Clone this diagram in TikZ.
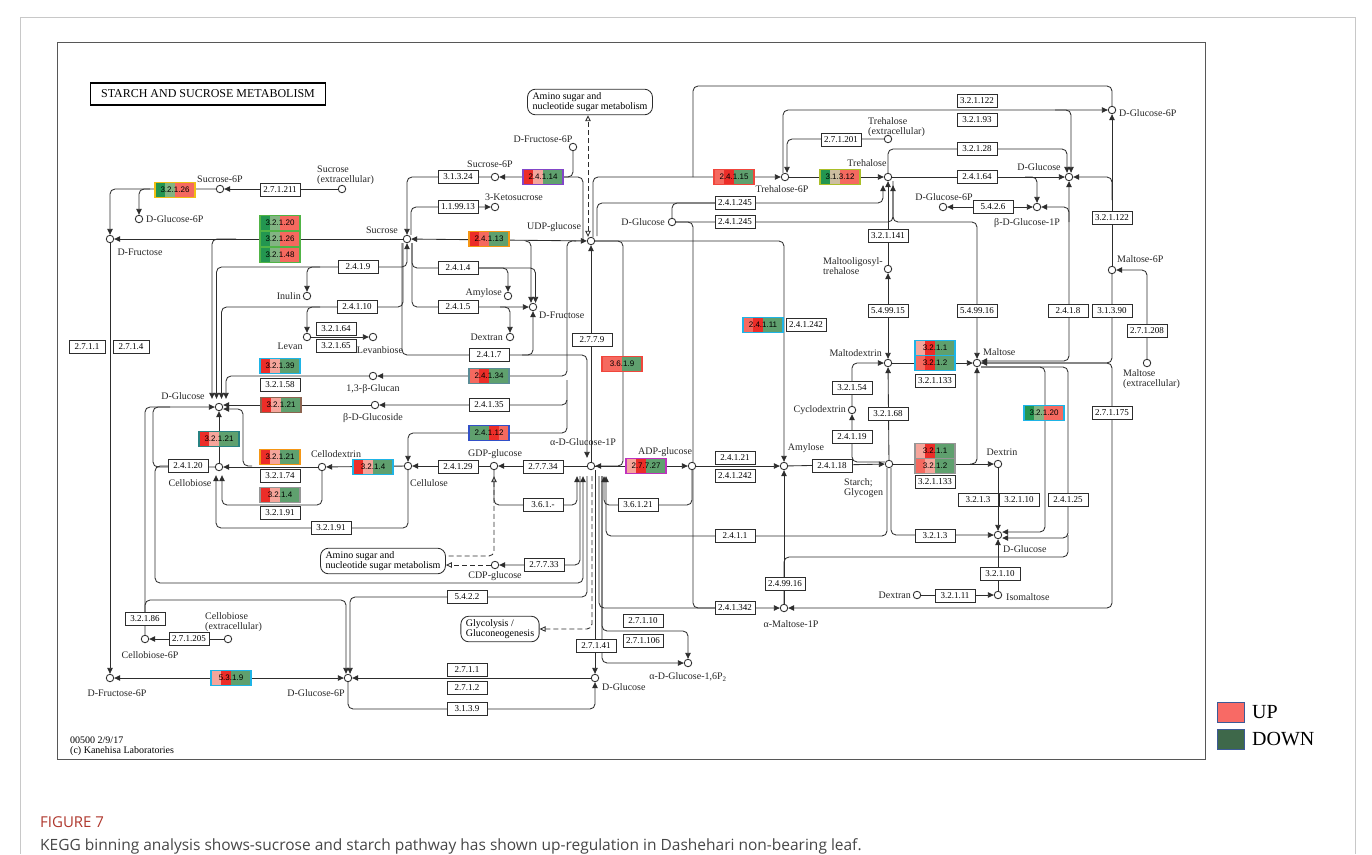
\documentclass[tikz,border=0pt]{standalone}
\usepackage{fontspec}
\setmainfont{Liberation Serif}
\newfontfamily\capfont{Open Sans}
\newfontfamily\ecsans{Liberation Sans}
\usetikzlibrary{arrows.meta,backgrounds}

\definecolor{linec}{RGB}{45,45,45}
\definecolor{framec}{RGB}{200,200,200}
\definecolor{figred}{RGB}{175,55,45}
\definecolor{captxt}{RGB}{70,70,70}
% expression colours
\definecolor{kred}{RGB}{236,45,40}
\definecolor{ksal}{RGB}{245,105,95}
\definecolor{kpink}{RGB}{245,165,155}
\definecolor{kgrn}{RGB}{95,160,110}
\definecolor{kdgrn}{RGB}{35,150,80}
\definecolor{klgrn}{RGB}{130,180,130}
\definecolor{ktan}{RGB}{205,190,160}
% box borders
\definecolor{bdyel}{RGB}{240,190,20}
\definecolor{bdgrn}{RGB}{80,180,70}
\definecolor{bdpur}{RGB}{130,70,200}
\definecolor{bdora}{RGB}{245,150,20}
\definecolor{bdred}{RGB}{240,70,60}
\definecolor{bdylg}{RGB}{170,190,40}
\definecolor{bdcya}{RGB}{30,180,230}
\definecolor{bdgry}{RGB}{150,150,150}
\definecolor{bdtea}{RGB}{40,130,130}
\definecolor{bdbrn}{RGB}{140,100,80}
\definecolor{bdblu}{RGB}{50,80,200}
\definecolor{bdmag}{RGB}{190,50,190}
\definecolor{bdtgr}{RGB}{90,140,150}
% legend
\definecolor{upc}{RGB}{248,106,101}
\definecolor{dnc}{RGB}{62,104,74}
\definecolor{legbd}{RGB}{60,90,150}

\newcommand{\cpdfont}{\fontsize{10}{10.5}\selectfont}
\newcommand{\ecfont}{\fontsize{9}{9.5}\selectfont}
\newcommand{\eccfont}{\ecsans\fontsize{8}{8.5}\selectfont}
\newcommand{\titlefont}{\fontsize{12}{13}\selectfont}

\tikzset{
  kline/.style={draw=linec, line width=0.85pt, rounded corners=5pt},
  kar/.style={kline, -{Triangle[length=6pt,width=5.5pt]}},
  kdar/.style={kline, {Triangle[length=6pt,width=5.5pt]}-{Triangle[length=6pt,width=5.5pt]}},
  kdash/.style={kline, dash pattern=on 5pt off 3pt},
  kdasho/.style={kdash, -{Triangle[open,length=6pt,width=5.5pt]}},
  kdashs/.style={kdash, {Triangle[open,length=6pt,width=5.5pt]}-},
  kdashoo/.style={kdash, {Triangle[open,length=6pt,width=5.5pt]}-{Triangle[open,length=6pt,width=5.5pt]}},
  cpd/.style={circle, draw=linec, line width=0.85pt, fill=white, minimum size=7.5pt, inner sep=0pt},
  lbl/.style={font=\cpdfont, text=black!85, inner sep=0pt, align=left},
  ecbox/.style={rectangle, draw=linec, line width=0.75pt, fill=white, minimum width=40pt, minimum height=13.5pt, inner sep=1pt, font=\ecfont},
  ecc/.style={rectangle, line width=1.3pt, minimum width=40pt, minimum height=15pt, inner sep=0pt, font=\eccfont},
  mapbox/.style={rectangle, rounded corners=8pt, draw=linec, line width=0.85pt, fill=white, align=left, font=\cpdfont, inner xsep=5pt, inner ysep=3pt},
}

% coloured enzyme box: name, position, label, segment colours, border
\newcommand{\kegbox}[5]{%
  \foreach \kc [count=\ki from 0] in {#4}
    {\fill[\kc] ([shift={(#2)}] {-20+10*\ki},-7.5) rectangle ([shift={(#2)}] {-10+10*\ki},7.5);}
  \node[ecc, draw=#5] (#1) at (#2) {#3};
}

\begin{document}
\begin{tikzpicture}[x=1pt,y=-1pt]
\useasboundingbox (0,0) rectangle (1372,854);

% frames
\draw[framec, line width=0.8pt] (20,854) -- (20,17) -- (1355,17) -- (1355,854);
\draw[linec!80, line width=0.8pt] (57,42) rectangle (1205,759);

\node[draw=black, line width=1.5pt, font=\titlefont, minimum width=235pt, minimum height=22pt] (title) at (208,94) {STARCH AND SUCROSE METABOLISM};

% compounds
\node[cpd] (suc6pL) at (220,189) {};
\node[cpd] (sucext) at (342,189) {};
\node[cpd] (g6pA) at (139,219) {};
\node[cpd] (dfru) at (110,239) {};
\node[cpd] (inulin) at (307,296) {};
\node[cpd] (levan) at (307,337) {};
\node[cpd] (levanbiose) at (373,337) {};
\node[cpd] (sucrose) at (407,239) {};
\node[cpd] (suc6pM) at (495,177) {};
\node[cpd] (ketosuc) at (495,207) {};
\node[cpd] (fru6pT) at (573,147) {};
\node[cpd] (udpg) at (591,241) {};
\node[cpd] (amylose1) at (508,296) {};
\node[cpd] (dfru2) at (533,307) {};
\node[cpd] (dextran1) at (510,337) {};
\node[cpd] (glucan) at (373,376) {};
\node[cpd] (glucoside) at (375,405) {};
\node[cpd] (dglcL) at (219,407) {};
\node[cpd] (cellobiose) at (219,467) {};
\node[cpd] (cellodextrin) at (322,467) {};
\node[cpd] (cellulose) at (408,466) {};
\node[cpd] (gdpg) at (494,466) {};
\node[cpd] (ag1p) at (591,466) {};
\node[cpd] (adpg) at (692,466) {};
\node[cpd] (amylose2) at (784,466) {};
\node[cpd] (starch) at (889,464) {};
\node[cpd] (cyclodextrin) at (852,410) {};
\node[cpd] (maltodextrin) at (888,363) {};
\node[cpd] (maltooligo) at (888,269) {};
\node[cpd] (trehalose) at (888,177) {};
\node[cpd] (tre6p) at (785,177) {};
\node[cpd] (treext) at (888,139) {};
\node[cpd] (dglcTop) at (672,222) {};
\node[cpd] (g6pTR) at (1112,110) {};
\node[cpd] (dglcTR) at (1069,177) {};
\node[cpd] (g6pR2) at (943,207) {};
\node[cpd] (bg1p) at (1037,207) {};
\node[cpd] (maltose6p) at (1112,270) {};
\node[cpd] (maltose) at (977,363) {};
\node[cpd] (maltext) at (1147,363) {};
\node[cpd] (dextrin) at (998,464) {};
\node[cpd] (dglcR) at (998,535) {};
\node[cpd] (isomaltose) at (998,595) {};
\node[cpd] (dextran2) at (917,595) {};
\node[cpd] (amalt1p) at (784,608) {};
\node[cpd] (ag16p2) at (688,663) {};
\node[cpd] (cdpg) at (495,565) {};
\node[cpd] (dglcB) at (595,678) {};
\node[cpd] (g6pB) at (348,678) {};
\node[cpd] (f6pB) at (110,678) {};
\node[cpd] (cb6p) at (145,639) {};
\node[cpd] (cbext) at (228,639) {};

% compound labels
\node[lbl] (l-suc6pL) at (220,179) {Sucrose-6P};
\node[lbl, anchor=west] (l-sucext) at (317,175) {Sucrose\\(extracellular)};
\node[lbl, anchor=west] (l-g6pA) at (146,219) {D-Glucose-6P};
\node[lbl] (l-dfru) at (140,252) {D-Fructose};
\node[lbl, anchor=east] (l-inulin) at (301,296) {Inulin};
\node[lbl] (l-levan) at (290,346) {Levan};
\node[lbl] (l-levanbiose) at (380,350) {Levanbiose};
\node[lbl] (l-sucrose) at (382,230) {Sucrose};
\node[lbl] (l-suc6pM) at (490,164) {Sucrose-6P};
\node[lbl] (l-ketosuc) at (514,197) {3-Ketosucrose};
\node[lbl] (l-fru6pT) at (543,139) {D-Fructose-6P};
\node[lbl] (l-udpg) at (554,227) {UDP-glucose};
\node[lbl, anchor=east] (l-amylose1) at (502,293) {Amylose};
\node[lbl, anchor=west] (l-dfru2) at (539,315) {D-Fructose};
\node[lbl, anchor=east] (l-dextran1) at (503,337) {Dextran};
\node[lbl] (l-glucan) at (373,389) {1,3-β-Glucan};
\node[lbl] (l-glucoside) at (373,418) {β-D-Glucoside};
\node[lbl] (l-dglcL) at (183,396) {D-Glucose};
\node[lbl] (l-cellobiose) at (190,483) {Cellobiose};
\node[lbl] (l-cellodextrin) at (336,454) {Cellodextrin};
\node[lbl] (l-cellulose) at (429,483) {Cellulose};
\node[lbl] (l-gdpg) at (495,454) {GDP-glucose};
\node[lbl] (l-ag1p) at (583,442) {α-D-Glucose-1P};
\node[lbl] (l-adpg) at (665,452) {ADP-glucose};
\node[lbl] (l-amylose2) at (806,448) {Amylose};
\node[lbl, anchor=north west] (l-starch) at (844,478) {Starch;\\Glycogen};
\node[lbl, anchor=east] (l-cyclodextrin) at (846,410) {Cyclodextrin};
\node[lbl, anchor=east] (l-maltodextrin) at (882,353) {Maltodextrin};
\node[lbl, anchor=west] (l-maltooligo) at (823,266) {Maltooligosyl-\\trehalose};
\node[lbl] (l-trehalose) at (867,163) {Trehalose};
\node[lbl] (l-tre6p) at (782,189) {Trehalose-6P};
\node[lbl, anchor=west] (l-treext) at (868,127) {Trehalose\\(extracellular)};
\node[lbl, anchor=east] (l-dglcTop) at (665,222) {D-Glucose};
\node[lbl, anchor=west] (l-g6pTR) at (1119,113) {D-Glucose-6P};
\node[lbl] (l-dglcTR) at (1039,167) {D-Glucose};
\node[lbl] (l-g6pR2) at (944,197) {D-Glucose-6P};
\node[lbl] (l-bg1p) at (1027,223) {β-D-Glucose-1P};
\node[lbl, anchor=west] (l-maltose6p) at (1117,259) {Maltose-6P};
\node[lbl, anchor=west] (l-maltose) at (983,352) {Maltose};
\node[lbl, anchor=north west] (l-maltext) at (1123,369) {Maltose\\(extracellular)};
\node[lbl] (l-dextrin) at (1002,452) {Dextrin};
\node[lbl, anchor=west] (l-dglcR) at (1003,549) {D-Glucose};
\node[lbl, anchor=west] (l-isomaltose) at (1006,597) {Isomaltose};
\node[lbl, anchor=east] (l-dextran2) at (911,595) {Dextran};
\node[lbl] (l-amalt1p) at (791,624) {α-Maltose-1P};
\node[lbl] (l-ag16p2) at (688,677) {α-D-Glucose-1,6P\textsubscript{2}};
\node[lbl] (l-cdpg) at (495,576) {CDP-glucose};
\node[lbl, anchor=west] (l-dglcB) at (602,687) {D-Glucose};
\node[lbl] (l-g6pB) at (316,693) {D-Glucose-6P};
\node[lbl] (l-f6pB) at (117,693) {D-Fructose-6P};
\node[lbl] (l-cb6p) at (150,655) {Cellobiose-6P};
\node[lbl, anchor=west] (l-cbext) at (205,622) {Cellobiose\\(extracellular)};

% map links
\node[mapbox] (aminoT) at (590,102) {Amino sugar and\\nucleotide sugar metabolism};
\node[mapbox] (aminoB) at (383,561) {Amino sugar and\\nucleotide sugar metabolism};
\node[mapbox] (glyco) at (500,629) {Glycolysis /\\Gluconeogenesis};

% enzymes
\node[ecbox] (e27121) at (280,190) {2.7.1.211};
\node[ecbox] (e31324) at (458,177) {3.1.3.24};
\node[ecbox] (e119913) at (458,207) {1.1.99.13};
\node[ecbox] (e2419) at (358,267) {2.4.1.9};
\node[ecbox] (e2414) at (458,268) {2.4.1.4};
\node[ecbox] (e24110) at (357,307) {2.4.1.10};
\node[ecbox] (e2415) at (458,307) {2.4.1.5};
\node[ecbox] (e32164) at (336,329) {3.2.1.64};
\node[ecbox] (e32165) at (336,346) {3.2.1.65};
\node[ecbox] (e2417) at (489,355) {2.4.1.7};
\node[ecbox] (e2779) at (592,340) {2.7.7.9};
\node[ecbox, minimum width=36pt] (e2711) at (87,347) {2.7.1.1};
\node[ecbox, minimum width=36pt] (e2714) at (131,347) {2.7.1.4};
\node[ecbox] (e32158) at (280,385) {3.2.1.58};
\node[ecbox] (e24135) at (489,405) {2.4.1.35};
\node[ecbox] (e24120) at (188,466) {2.4.1.20};
\node[ecbox] (e32174) at (280,476) {3.2.1.74};
\node[ecbox] (e32191a) at (280,513) {3.2.1.91};
\node[ecbox] (e32191b) at (331,528) {3.2.1.91};
\node[ecbox] (e24129) at (458,467) {2.4.1.29};
\node[ecbox] (e27734) at (543,467) {2.7.7.34};
\node[ecbox] (e361) at (543,505) {3.6.1.-};
\node[ecbox] (e27733) at (544,565) {2.7.7.33};
\node[ecbox] (e5422) at (467,597) {5.4.2.2};
\node[ecbox] (e27141) at (596,646) {2.7.1.41};
\node[ecbox] (e2711b) at (467,670) {2.7.1.1};
\node[ecbox] (e2712) at (467,688) {2.7.1.2};
\node[ecbox] (e3139) at (467,709) {3.1.3.9};
\node[ecbox] (e32186) at (145,619) {3.2.1.86};
\node[ecbox] (e271205) at (189,639) {2.7.1.205};
\node[ecbox] (e27110) at (643,621) {2.7.1.10};
\node[ecbox] (e271106) at (643,641) {2.7.1.106};
\node[ecbox] (e36121) at (638,505) {3.6.1.21};
\node[ecbox] (e24121) at (735,458) {2.4.1.21};
\node[ecbox] (e241242a) at (735,476) {2.4.1.242};
\node[ecbox] (e2411) at (735,536) {2.4.1.1};
\node[ecbox] (e241342) at (735,608) {2.4.1.342};
\node[ecbox] (e249916) at (785,584) {2.4.99.16};
\node[ecbox] (e241242b) at (806,325) {2.4.1.242};
\node[ecbox] (e24118) at (832,466) {2.4.1.18};
\node[ecbox] (e24119) at (852,437) {2.4.1.19};
\node[ecbox] (e32154) at (852,388) {3.2.1.54};
\node[ecbox] (e32168) at (888,414) {3.2.1.68};
\node[ecbox] (e549915) at (888,311) {5.4.99.15};
\node[ecbox] (e321141) at (888,236) {3.2.1.141};
\node[ecbox] (e241245a) at (735,203) {2.4.1.245};
\node[ecbox] (e241245b) at (735,222) {2.4.1.245};
\node[ecbox] (e271201) at (841,140) {2.7.1.201};
\node[ecbox] (e321122a) at (977,101) {3.2.1.122};
\node[ecbox] (e32193) at (977,120) {3.2.1.93};
\node[ecbox] (e32128) at (977,149) {3.2.1.28};
\node[ecbox] (e24164) at (977,177) {2.4.1.64};
\node[ecbox] (e5426) at (993,207) {5.4.2.6};
\node[ecbox] (e321122b) at (1112,218) {3.2.1.122};
\node[ecbox] (e549916) at (977,311) {5.4.99.16};
\node[ecbox] (e2418) at (1068,311) {2.4.1.8};
\node[ecbox] (e31390) at (1112,311) {3.1.3.90};
\node[ecbox] (e271208) at (1147,331) {2.7.1.208};
\node[ecbox] (e321133a) at (935,381) {3.2.1.133};
\node[ecbox] (e321133b) at (935,482) {3.2.1.133};
\node[ecbox] (e271175) at (1112,413) {2.7.1.175};
\node[ecbox] (e3213a) at (978,500) {3.2.1.3};
\node[ecbox] (e32110a) at (1019,500) {3.2.1.10};
\node[ecbox] (e24125) at (1068,500) {2.4.1.25};
\node[ecbox] (e3213b) at (935,536) {3.2.1.3};
\node[ecbox] (e32110b) at (1000,574) {3.2.1.10};
\node[ecbox] (e32111) at (955,596) {3.2.1.11};

% coloured enzymes
\kegbox{c32126a}{175,190}{3.2.1.26}{kdgrn,klgrn,ksal,ksal}{bdyel}
\kegbox{c32120}{280,223}{3.2.1.20}{kdgrn,klgrn,ksal,ksal}{bdgrn}
\kegbox{c32126b}{280,239}{3.2.1.26}{kdgrn,klgrn,ksal,ksal}{bdgrn}
\kegbox{c32148}{280,255}{3.2.1.48}{kdgrn,klgrn,ksal,ksal}{bdgrn}
\kegbox{c24114}{543,177}{2.4.1.14}{kred,kpink,kgrn,kgrn}{bdpur}
\kegbox{c24113}{489,239}{2.4.1.13}{kred,ksal,kgrn,kgrn}{bdora}
\kegbox{c24115}{734,177}{2.4.1.15}{ksal,kred,kgrn,kgrn}{bdred}
\kegbox{c31312}{840,177}{3.1.3.12}{kdgrn,ktan,ksal,ksal}{bdylg}
\kegbox{c24111}{763,325}{2.4.1.11}{ksal,kred,kgrn,kgrn}{bdcya}
\kegbox{c3211a}{935,348}{3.2.1.1}{kpink,kred,kgrn,kgrn}{bdcya}
\kegbox{c3212a}{935,363}{3.2.1.2}{ksal,kred,kgrn,kgrn}{bdcya}
\kegbox{c3211b}{935,451}{3.2.1.1}{kpink,kred,kgrn,kgrn}{bdgry}
\kegbox{c3212b}{935,466}{3.2.1.2}{ksal,kpink,kgrn,kgrn}{bdgry}
\kegbox{c32120r}{1044,413}{3.2.1.20}{kdgrn,klgrn,ksal,ksal}{bdcya}
\kegbox{c3619}{622,364}{3.6.1.9}{ksal,ksal,kgrn,kgrn}{bdred}
\kegbox{c24134}{489,376}{2.4.1.34}{ksal,kred,kgrn,kgrn}{bdtgr}
\kegbox{c32139}{280,366}{3.2.1.39}{kred,kpink,kgrn,kgrn}{bdcya}
\kegbox{c32121a}{281,405}{3.2.1.21}{kred,kpink,kgrn,kgrn}{bdbrn}
\kegbox{c24112}{489,433}{2.4.1.12}{kgrn,kgrn,kred,ksal}{bdblu}
\kegbox{c32121b}{219,439}{3.2.1.21}{kred,kpink,kgrn,kgrn}{bdtea}
\kegbox{c32121c}{280,457}{3.2.1.21}{kred,kpink,kgrn,kgrn}{bdora}
\kegbox{c3214a}{373,467}{3.2.1.4}{kred,kpink,kgrn,kgrn}{bdcya}
\kegbox{c3214b}{280,495}{3.2.1.4}{kred,kpink,kgrn,kgrn}{bdgry}
\kegbox{c27727}{646,466}{2.7.7.27}{kpink,kred,kgrn,kgrn}{bdmag}
\kegbox{c5319}{231,678}{5.3.1.9}{kpink,kred,kgrn,kgrn}{bdcya}

% footer and legend
\node[anchor=west, align=left, font=\fontsize{10}{10}\selectfont, inner sep=0pt] (footer) at (70,746) {00500 2/9/17\\(c) Kanehisa Laboratories};
\node[draw=legbd, fill=upc, minimum width=27pt, minimum height=20pt, inner sep=0pt] (legup) at (1231,712) {};
\node[draw=legbd, fill=dnc, minimum width=27pt, minimum height=20pt, inner sep=0pt] (legdn) at (1231,739) {};
\node[anchor=west, font=\fontsize{20}{22}\selectfont, inner sep=0pt] (legupt) at (1252,712) {UP};
\node[anchor=west, font=\fontsize{20}{22}\selectfont, inner sep=0pt] (legdnt) at (1252,739) {DOWN};

% caption
\node[anchor=west, inner sep=0pt, text=figred, font=\capfont\fontsize{15}{17}\selectfont] (figno) at (40,822) {FIGURE 7};
\node[anchor=west, inner sep=0pt, text=captxt, font=\capfont\fontsize{15.5}{17}\selectfont] (caption) at (40,846) {KEGG binning analysis shows-sucrose and starch pathway has shown up-regulation in Dashehari non-bearing leaf.};

\begin{pgfonlayer}{background}
% sucrose side
\draw[kar] (sucext) -- (suc6pL);
\draw[kar] (suc6pL) -| (dfru);
\draw[kar] (150,189) -| (g6pA);
\draw[kar] (sucrose) -- (dfru);
\draw[kar] (236,239) -| ([xshift=-7pt,yshift=4pt]dglcL.north);
\draw[kar] (e2419.center) -| ([xshift=-2.5pt,yshift=4pt]dglcL.north);
\draw[kar] (e2419.center) -| (sucrose.south);
\draw[kar] (320,267) -| (inulin);
\draw[kar] (e24110.center) -| ([xshift=2.5pt,yshift=4pt]dglcL.north);
\draw[kline] (e24110.center) -| ([xshift=-4pt]sucrose.south);
\draw[kar] (320,307) -| (levan);
\draw[kar] (levan) -- (levanbiose);
\draw[kar] (suc6pM) -| (sucrose);
\draw[kar] ([xshift=4pt]sucrose.north) |- (ketosuc);
\draw[kar] (fru6pT) |- (suc6pM);
\draw[kline] (c24114.center) -| ([xshift=-8pt,yshift=-3pt]udpg.north);
\draw[kdashoo] ([xshift=-3pt]udpg.north) -- ([xshift=-2pt]aminoT.south);
\draw[kdar] (udpg) -- (sucrose);
\draw[kar] (527,241) -| ([xshift=-2pt]dfru2.north);
\draw[kar] ([xshift=5pt]sucrose.south) |- (e2414.center) -| (amylose1);
\draw[kar] (e2414.center) -| ([xshift=2.5pt]dfru2.north);
\draw[kar] ([xshift=5pt]sucrose.south) |- (e2415.center) -- (dfru2);
\draw[kar] (500,307) -| (dextran1);
\draw[kar] ([xshift=-5pt]sucrose.south) |- (e2417.center) -| ([xshift=-4pt,yshift=4pt]ag1p.north);
\draw[kar] (522,355) -| (dfru2);
% UDP-glucose
\draw[kar] ([xshift=2pt]udpg.north) |- (tre6p);
\draw[kar] (597,236) |- (e241245a.center) -| ([xshift=-5pt,yshift=-4pt]trehalose.south);
\draw[kline] (dglcTop) |- (e241245a.center);
\draw[kar] (dglcTop) -- (e241245b.center) -| ([xshift=5pt,yshift=-4pt]trehalose.south);
\draw[kline] (dglcTop) -| (693,608) -- (e241342.center);
\draw[kar] (udpg) -| (amylose2);
\draw[kar] (576,241) -| (567,376) -- (glucan);
\draw[kar] (567,380) |- (glucoside);
\draw[kar] (567,400) |- (c24112.center) -| (cellulose);
\draw[kar] (udpg) -| (623,420) |- (ag1p);
\draw[kar] (ag1p) -- (udpg);
% glucose, cellulose
\draw[kar] (glucan) -| ([xshift=7pt,yshift=4pt]dglcL.north);
\draw[kar] (glucoside) -- ([yshift=2pt]dglcL.east);
\draw[kar] (252,466) -| (243,409) -- ([yshift=-2pt]dglcL.east);
\draw[kar] (cb6p) |- (dglcL);
\draw[kline] (cellobiose) -| (153,420) |- (170,407);
\draw[kar] (e24120.center) -| (155,583) -| ([xshift=-8pt,yshift=-6pt]ag1p.south);
\draw[kar] (cellobiose) -- (dglcL);
\draw[kar] (cellodextrin) -- (cellobiose);
\draw[kar] (cellodextrin) |- (240,505) -| ([xshift=3pt,yshift=-4pt]cellobiose.south);
\draw[kar] (cellulose) |- (e32191b.center) -| ([xshift=-3pt,yshift=-4pt]cellobiose.south);
\draw[kar] (cellulose) -- (cellodextrin);
\draw[kar] (gdpg) -- (cellulose);
\draw[kar] (ag1p) -- (gdpg);
\draw[kar] (gdpg) |- (e361.center) -| ([xshift=-14pt,yshift=-6pt]ag1p.south);
\draw[kar] ([xshift=-11pt,yshift=-6pt]ag1p.south) |- (cdpg);
\draw[kdashs] ([yshift=-6pt]gdpg.south) |- ([yshift=5pt]aminoB.east);
\draw[kdasho] (cdpg) -- (aminoB.east |- cdpg);
\draw[kdasho] ([xshift=1pt,yshift=-6pt]ag1p.south) |- (glyco.east);
\draw[kar] ([xshift=-4pt,yshift=-6pt]ag1p.south) |- (e5422.center) -| ([xshift=2pt]g6pB.north);
\draw[kar] (145,615) |- (300,600) -| ([xshift=-2pt]g6pB.north);
\draw[kar] ([xshift=4pt]ag1p.south) -- (dglcB);
\draw[kar] ([xshift=8pt,yshift=-6pt]ag1p.south) |- (amalt1p);
\draw[kar] ([xshift=11pt,yshift=-6pt]ag1p.south) |- (665,631) -| (ag16p2);
\draw[kar] ([xshift=11pt,yshift=-6pt]ag1p.south) |- (ag16p2);
\draw[kar] (adpg) |- (e36121.center) -| ([xshift=13pt,yshift=-6pt]ag1p.south);
% starch
\draw[kar] (ag1p) -- (adpg);
\draw[kar] (adpg) -- (amylose2);
\draw[kar] (amylose2) -- (starch);
\draw[kar] ([yshift=2pt]starch.west) -| (cyclodextrin);
\draw[kar] (cyclodextrin) |- (maltodextrin);
\draw[kar] (starch) -- (maltodextrin);
\draw[kdar] (maltooligo) -- (maltodextrin);
\draw[kar] (maltooligo) -- (trehalose);
\draw[kar] (maltodextrin) -- (maltose);
\draw[kar] (starch) -- (dextrin);
\draw[kar] (970,464) -| (maltose);
\draw[kar] (dextrin) -- (dglcR);
\draw[kar] ([xshift=2pt]starch.south) |- (dglcR);
\draw[kar] ([xshift=-2pt]starch.south) |- (e2411.center) -| ([xshift=15pt,yshift=-6pt]ag1p.south);
\draw[kar] (amalt1p) -- (amylose2);
\draw[kar] (dextran2) -- (isomaltose);
\draw[kar] (isomaltose) -- (dglcR);
\draw[kar] (maltose.east) -| (1112,608) -- (amalt1p);
\draw[kar] ([yshift=-4pt]maltose.east) -| (1045,532) -- ([yshift=3pt]dglcR.east);
\draw[kar] ([yshift=-4pt]maltose.east) -| (1068,538) -- ([yshift=-3pt]dglcR.east);
\draw[kline] (amalt1p) |- (1068,557) -- (1068,535);
% trehalose and maltose
\draw[kar] (trehalose) -- (dglcTR);
\draw[kar] (1025,177) -| (bg1p);
\draw[kar] (trehalose) |- (e32128.center) -| ([xshift=-2pt]dglcTR.north);
\draw[kar] (tre6p) -- (trehalose);
\draw[kline] (693,177) |- (1112,86) -- (g6pTR);
\draw[kar] (treext) -| ([xshift=2pt]tre6p.north);
\draw[kar] ([xshift=-2pt]tre6p.north) |- (g6pTR);
\draw[kar] (1055,110) -| ([xshift=2pt]dglcTR.north);
\draw[kdar] (g6pR2) -- (bg1p);
\draw[kdar] (dglcTR) |- ([yshift=2pt]maltose.east);
\draw[kar] (1069,222) |- (bg1p);
\draw[kar] (maltose6p) -- (g6pTR);
\draw[kar] (1112,200) |- (dglcTR);
\draw[kar] (maltose6p) |- (maltose.east);
\draw[kar] (maltext) |- (maltose6p);
\draw[kar] ([xshift=5pt]trehalose.south) |- (977,222) -- (maltose);
% fructose and glucose phosphates
\draw[kar] (dfru) -- (f6pB);
\draw[kdar] (f6pB) -- (g6pB);
\draw[kar] (dglcB) -- (g6pB);
\draw[kar] (g6pB) |- (e3139.center) -| (dglcB);
\draw[kar] (cbext) -- (cb6p);
\end{pgfonlayer}
\end{tikzpicture}
\end{document}
